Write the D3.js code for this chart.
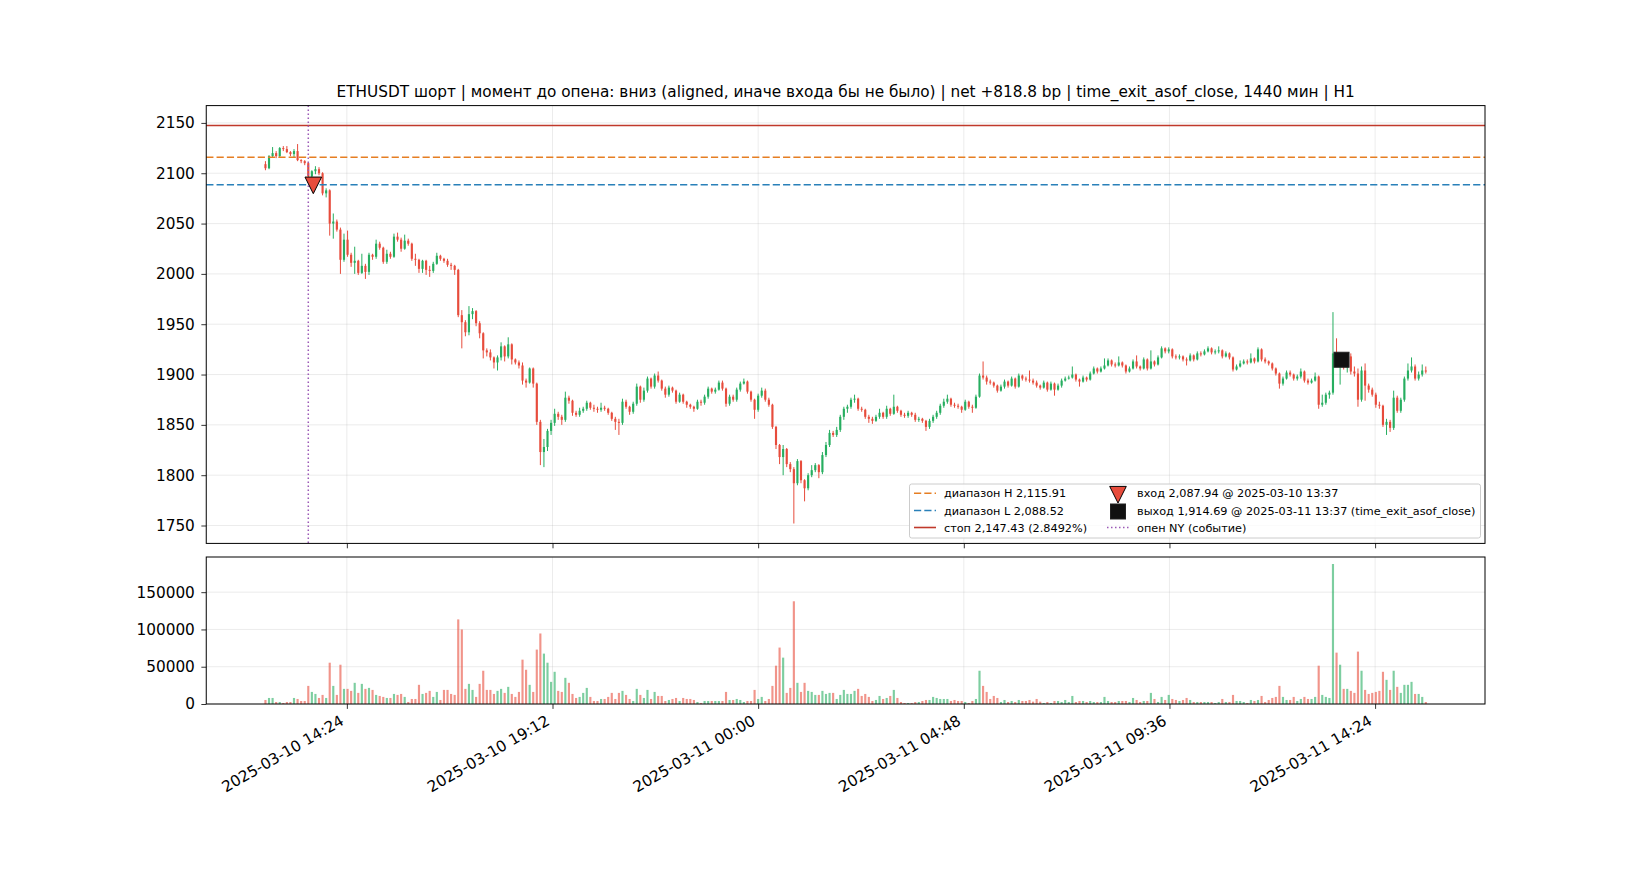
<!DOCTYPE html>
<html>
<head>
<meta charset="utf-8">
<script src="https://cdn.jsdelivr.net/npm/d3@7"></script>
<style>
  body { margin: 0; background: #fff; }
  text { font-family: "DejaVu Sans", sans-serif; fill: #000; }
</style>
</head>
<body>
<div id="chart"></div>
<script>
// 5m candles from 2025-03-10 12:30 UTC, open of each candle = previous close
var startTime = "2025-03-10 12:30";
var stepMinutes = 5;
var firstOpen = 2109;

var closes = [
  2105,2117,2120,2117,2125,2124,2121,2119,2122,2113, 2112,2110,2097,2102,2104,2100,2080,2083,2050,2052,
  2044,2014,2034,2019,2011,2013,2001,2008,2002,2019, 2017,2030,2026,2012,2020,2017,2037,2034,2025,2033,
  2030,2015,2014,2005,2013,2004,2003,2010,2018,2015, 2013,2009,2008,2004,1959,1952,1942,1960,1963,1951,
  1941,1924,1922,1917,1912,1917,1928,1918,1930,1915, 1912,1909,1894,1892,1906,1891,1853,1823,1828,1844,
  1852,1861,1858,1855,1877,1874,1862,1860,1864,1866, 1872,1867,1866,1865,1867,1866,1862,1856,1853,1852,
  1873,1868,1863,1871,1888,1875,1884,1896,1888,1899, 1894,1886,1880,1887,1884,1873,1880,1873,1870,1868,
  1866,1873,1872,1878,1886,1883,1885,1892,1886,1871, 1878,1875,1885,1891,1893,1883,1875,1865,1879,1884,
  1875,1870,1848,1830,1818,1826,1811,1806,1792,1814, 1795,1787,1800,1805,1810,1803,1820,1830,1842,1840,
  1845,1858,1866,1868,1875,1876,1866,1865,1858,1856, 1854,1858,1862,1858,1866,1861,1868,1864,1860,1859,
  1862,1860,1855,1856,1854,1848,1854,1858,1862,1869, 1873,1876,1870,1869,1868,1865,1873,1868,1867,1878,
  1899,1897,1893,1892,1889,1884,1888,1893,1889,1896, 1888,1899,1896,1895,1894,1892,1889,1887,1892,1885,
  1891,1885,1889,1894,1896,1897,1900,1895,1893,1897, 1895,1901,1906,1903,1906,1909,1914,1910,1909,1912,
  1909,1903,1906,1913,1908,1906,1915,1906,1913,1910, 1917,1926,1923,1925,1918,1917,1918,1915,1914,1919,
  1915,1921,1920,1923,1926,1922,1923,1924,1918,1921, 1917,1905,1908,1911,1913,1912,1916,1913,1925,1915,
  1913,1911,1906,1901,1891,1896,1902,1900,1896,1898, 1903,1894,1892,1894,1898,1870,1872,1880,1882,1921,
  1912,1915,1910,1918,1903,1901,1875,1904,1889,1885, 1880,1870,1869,1850,1853,1847,1877,1864,1875,1896,
  1904,1908,1896,1900,1904,1903
];

var highs = [
  2112,2118,2126,2122,2126,2127,2127,2122,2124,2129, 2114,2113,2111,2103,2107,2106,2101,2085,2084,2060,
  2054,2046,2040,2043,2021,2027,2014,2020,2010,2021, 2020,2034,2032,2027,2024,2022,2040,2041,2036,2039,
  2035,2031,2020,2015,2014,2014,2008,2012,2021,2019, 2016,2015,2011,2009,2005,1964,1954,1968,1966,1964,
  1953,1942,1926,1925,1918,1919,1932,1929,1937,1931, 1916,1914,1912,1896,1907,1907,1892,1855,1836,1846,
  1855,1866,1863,1860,1883,1879,1875,1864,1867,1868, 1874,1873,1870,1868,1872,1869,1867,1863,1858,1856,
  1876,1875,1869,1873,1891,1889,1887,1898,1897,1901, 1903,1895,1888,1889,1888,1885,1882,1881,1874,1871,
  1869,1875,1875,1880,1888,1887,1887,1894,1894,1887, 1880,1880,1887,1893,1896,1894,1884,1876,1881,1887,
  1886,1877,1871,1849,1831,1830,1827,1813,1808,1816, 1815,1796,1802,1810,1812,1811,1823,1833,1845,1844,
  1848,1860,1868,1870,1877,1880,1877,1868,1866,1860, 1858,1860,1866,1863,1869,1867,1880,1869,1865,1862,
  1864,1863,1862,1858,1857,1855,1856,1860,1864,1871, 1876,1880,1877,1872,1871,1869,1875,1874,1870,1880,
  1901,1913,1899,1895,1893,1890,1890,1895,1894,1898, 1897,1901,1900,1898,1904,1896,1894,1890,1894,1893,
  1893,1892,1891,1896,1898,1899,1908,1901,1896,1899, 1898,1903,1908,1907,1908,1916,1916,1915,1912,1918,
  1913,1910,1908,1915,1919,1909,1917,1916,1924,1914, 1919,1928,1927,1927,1926,1920,1920,1919,1917,1921,
  1920,1923,1923,1925,1928,1927,1925,1928,1925,1923, 1922,1918,1910,1914,1915,1915,1921,1917,1927,1926,
  1917,1914,1912,1907,1902,1898,1904,1904,1901,1900, 1906,1904,1896,1896,1902,1899,1880,1882,1884,1962,
  1936,1918,1916,1920,1921,1908,1906,1908,1911,1891, 1887,1882,1873,1870,1856,1855,1884,1879,1877,1898,
  1911,1917,1910,1903,1910,1908
];

var lows = [
  2103,2104,2116,2115,2116,2122,2120,2117,2116,2112, 2110,2108,2095,2093,2099,2098,2078,2076,2038,2035,
  2042,2000,2012,2017,2007,2000,1999,2000,1995,1999, 2014,2015,2024,2010,2010,2015,2016,2032,2022,2024,
  2028,2013,2008,2001,2001,1999,1997,2001,2009,2013, 2011,2007,2004,1999,1957,1926,1938,1939,1955,1948,
  1936,1916,1918,1914,1906,1904,1914,1913,1916,1910, 1910,1906,1890,1887,1891,1887,1850,1810,1808,1824,
  1840,1849,1855,1850,1853,1871,1859,1858,1858,1862, 1864,1865,1863,1862,1863,1864,1860,1854,1845,1840,
  1850,1866,1860,1861,1869,1872,1873,1882,1886,1886, 1892,1884,1877,1878,1882,1871,1872,1871,1867,1866,
  1863,1865,1869,1870,1876,1881,1881,1884,1884,1868, 1869,1873,1873,1883,1890,1881,1873,1856,1863,1877,
  1873,1868,1846,1826,1811,1800,1808,1803,1752,1790, 1792,1774,1785,1798,1803,1797,1801,1818,1828,1838,
  1838,1843,1855,1862,1866,1872,1864,1863,1856,1852, 1851,1853,1856,1856,1856,1859,1860,1862,1858,1857,
  1857,1858,1853,1853,1852,1844,1846,1852,1856,1860, 1867,1871,1868,1867,1866,1862,1864,1866,1862,1866,
  1877,1895,1890,1890,1887,1882,1883,1886,1887,1888, 1886,1887,1894,1893,1892,1890,1887,1885,1886,1883,
  1884,1879,1884,1887,1893,1895,1896,1893,1888,1892, 1893,1894,1900,1901,1902,1905,1908,1908,1907,1908,
  1907,1901,1902,1905,1906,1904,1905,1904,1905,1908, 1909,1916,1921,1921,1916,1915,1915,1913,1909,1913,
  1913,1914,1918,1919,1922,1920,1920,1921,1916,1917, 1915,1903,1904,1907,1910,1910,1911,1911,1912,1913,
  1911,1909,1904,1899,1886,1889,1895,1898,1894,1894, 1896,1892,1890,1891,1893,1866,1868,1870,1876,1880,
  1908,1890,1905,1902,1900,1898,1868,1873,1874,1882, 1878,1867,1866,1848,1840,1843,1845,1862,1862,1873,
  1894,1902,1894,1894,1898,1901
];

var volumes = [
  5400,8100,8100,2700,2700,1350,2700,2700,8100,6750, 4050,4050,24300,16200,13500,8100,12200,8100,55400,24300,
  12200,52700,20300,20300,17600,28400,14900,27000,20300,21600, 18900,12200,10800,9500,8100,8100,13500,12200,13500,9500,
  2700,6750,6750,25700,13500,14900,17600,9500,16200,5400, 18900,18900,13500,12200,113500,100000,20300,27000,18900,9500,
  27000,44600,18900,18900,13500,17600,20300,14900,23000,13500, 9500,16200,59500,45900,25700,16200,73000,94600,67600,55400,
  29700,43200,17600,16200,35100,28400,13500,8100,9500,14900, 21600,9500,4050,4050,6750,6750,9500,14900,6750,14900,
  17600,12200,6750,4050,20300,12200,8100,18900,6750,16200, 10800,10800,4050,5400,6750,8100,4050,8100,6750,6750,
  5400,2700,1350,4050,4050,4050,4050,4050,4050,16200, 5400,5400,6750,5400,2700,4050,4050,18900,6750,9500,
  4050,6750,24300,51400,75700,62200,14900,21600,137800,28400, 16200,28400,17600,16200,12200,12200,17600,13500,14900,14900,
  6750,12200,18900,13500,13500,17600,20300,10800,13500,9500, 4050,5400,10800,6750,8100,10800,18900,8100,2700,1350,
  1350,1350,2700,2700,4050,5400,5400,9500,8100,6750, 6750,6750,4050,5400,4050,4050,2700,1350,4050,6750,
  44600,24300,16200,6750,10800,8100,2700,5400,2700,4050, 2700,5400,4050,4050,5400,3150,6750,3150,1350,2700,
  1350,4050,4050,2700,5400,2700,10800,2700,4050,4050, 2700,4050,2700,2700,2700,9500,4050,2700,2700,4050,
  4050,4050,2700,8100,5400,2700,4050,4050,14900,6750, 2700,9500,5400,12200,6750,5400,4050,5400,8100,5400,
  2700,2700,2700,2700,2700,2700,1350,2700,6750,2700, 2700,12200,4050,4050,2700,1350,5400,4050,5400,10800,
  2700,5400,8100,9500,24300,9500,5400,5400,9500,4050, 6750,9500,6750,6750,9500,51400,12200,9500,8100,187800,
  68900,52700,20300,20300,17600,14900,70300,44600,18900,13500, 14900,16200,17600,43200,32400,18900,44600,23000,14900,25700,
  25700,29700,13500,13500,9500,2700
];

var xTickLabels = ["2025-03-10 14:24", "2025-03-10 19:12", "2025-03-11 00:00",
                   "2025-03-11 04:48", "2025-03-11 09:36", "2025-03-11 14:24"];
var priceTicks = [1750, 1800, 1850, 1900, 1950, 2000, 2050, 2100, 2150];
var volumeTicks = [0, 50000, 100000, 150000];

var rangeHigh = 2115.91, rangeLow = 2088.52, stopPrice = 2147.43;
var entryTime = "2025-03-10 13:37", entryPrice = 2087.94;
var exitTime = "2025-03-11 13:37", exitPrice = 1914.69;
var nyOpenTime = "2025-03-10 13:30";

var titleText = "ETHUSDT шорт | момент до опена: вниз (aligned, иначе входа бы не было) | net +818.8 bp | time_exit_asof_close, 1440 мин | H1";
var legendLeft = ["диапазон H 2,115.91", "диапазон L 2,088.52", "стоп 2,147.43 (2.8492%)"];
var legendRight = ["вход 2,087.94 @ 2025-03-10 13:37",
                   "выход 1,914.69 @ 2025-03-11 13:37 (time_exit_asof_close)",
                   "опен NY (событие)"];

var GREEN = "#27ae60", RED = "#e74c3c";
var ORANGE = "#e67e22", BLUE = "#2980b9", STOP = "#c0392b", PURPLE = "#9b59b6";
var DASH = "7.2,3.1", DOT = "1.5,2.5";

var parse = d3.utcParse("%Y-%m-%d %H:%M");
var t0 = parse(startTime);
var candles = closes.map(function(c, i) {
  return {
    t: new Date(t0.getTime() + i * stepMinutes * 60000),
    o: i == 0 ? firstOpen : closes[i - 1],
    h: highs[i], l: lows[i], c: c, v: volumes[i]
  };
});

var W = 1650, H = 880;
var left = 206.25, right = 1485;
var mainTop = 105.6, mainBottom = 543.4;
var volTop = 557.0, volBottom = 704;
var tickFont = "15.3px";

// matplotlib style autoscale: 5% margin around data (bar half width included)
var halfW = 1.5 * 60000;
var tMin = candles[0].t.getTime() - halfW, tMax = candles[candles.length - 1].t.getTime() + halfW;
var tPad = (tMax - tMin) * 0.05;
var x = d3.scaleUtc().domain([new Date(tMin - tPad), new Date(tMax + tPad)]).range([left, right]);

var pLo = d3.min(lows), pHi = Math.max(d3.max(highs), stopPrice);
var pPad = (pHi - pLo) * 0.05;
var y = d3.scaleLinear().domain([pLo - pPad, pHi + pPad]).range([mainBottom, mainTop]);
var yv = d3.scaleLinear().domain([0, d3.max(volumes) * 1.05]).range([volBottom, volTop]);

var bw = x(new Date(t0.getTime() + halfW)) - x(new Date(t0.getTime() - halfW));
var xTicks = xTickLabels.map(parse);

var svg = d3.select("#chart").append("svg")
  .attr("width", W).attr("height", H)
  .style("background", "#fff");

// grids
function grid(g, yScale, vals, top, bottom) {
  g.selectAll(".gy").data(vals).enter().append("line")
    .attr("x1", left).attr("x2", right)
    .attr("y1", function(d) { return yScale(d); }).attr("y2", function(d) { return yScale(d); })
    .attr("stroke", "#b0b0b0").attr("stroke-opacity", 0.3).attr("stroke-width", 0.8);
  g.selectAll(".gx").data(xTicks).enter().append("line")
    .attr("x1", function(d) { return x(d); }).attr("x2", function(d) { return x(d); })
    .attr("y1", top).attr("y2", bottom)
    .attr("stroke", "#b0b0b0").attr("stroke-opacity", 0.3).attr("stroke-width", 0.8);
}
grid(svg.append("g"), y, priceTicks, mainTop, mainBottom);
grid(svg.append("g"), yv, volumeTicks, volTop, volBottom);

// candles
var cg = svg.append("g");
cg.selectAll("line.wick").data(candles).enter().append("line")
  .attr("x1", function(d) { return x(d.t); }).attr("x2", function(d) { return x(d.t); })
  .attr("y1", function(d) { return y(d.h); }).attr("y2", function(d) { return y(d.l); })
  .attr("stroke", function(d) { return d.c >= d.o ? GREEN : RED; })
  .attr("stroke-width", 1);
cg.selectAll("rect.body").data(candles).enter().append("rect")
  .attr("x", function(d) { return x(d.t) - bw / 2; })
  .attr("width", bw)
  .attr("y", function(d) { return y(Math.max(d.o, d.c)); })
  .attr("height", function(d) { return Math.max(0.8, Math.abs(y(d.o) - y(d.c))); })
  .attr("fill", function(d) { return d.c >= d.o ? GREEN : RED; });

// volume
svg.append("g").selectAll("rect").data(candles).enter().append("rect")
  .attr("x", function(d) { return x(d.t) - bw / 2; })
  .attr("width", bw)
  .attr("y", function(d) { return yv(d.v); })
  .attr("height", function(d) { return volBottom - yv(d.v); })
  .attr("fill", function(d) { return d.c >= d.o ? GREEN : RED; })
  .attr("fill-opacity", 0.6);

// levels
function hline(v, color, dash, w) {
  svg.append("line").attr("x1", left).attr("x2", right)
    .attr("y1", y(v)).attr("y2", y(v))
    .attr("stroke", color).attr("stroke-width", w)
    .attr("stroke-dasharray", dash);
}
hline(rangeHigh, ORANGE, DASH, 1.4);
hline(rangeLow, BLUE, DASH, 1.4);
hline(stopPrice, STOP, null, 1.6);

svg.append("line")
  .attr("x1", x(parse(nyOpenTime))).attr("x2", x(parse(nyOpenTime)))
  .attr("y1", mainTop).attr("y2", mainBottom)
  .attr("stroke", PURPLE).attr("stroke-width", 1.5).attr("stroke-dasharray", DOT);

// markers
function triPath(cx, cy, s) {
  return "M" + (cx - s) + "," + (cy - s) + "L" + (cx + s) + "," + (cy - s) + "L" + cx + "," + (cy + s) + "Z";
}
svg.append("path")
  .attr("d", triPath(x(parse(entryTime)), y(entryPrice), 8.3))
  .attr("fill", RED).attr("stroke", "#000").attr("stroke-width", 1);
svg.append("rect")
  .attr("x", x(parse(exitTime)) - 7.5).attr("y", y(exitPrice) - 7.5)
  .attr("width", 15).attr("height", 15)
  .attr("fill", "#111").attr("stroke", "#222").attr("stroke-width", 1);

// axes
function yAxis(scale, vals, fmt) {
  var g = svg.append("g").attr("transform", "translate(" + left + ",0)")
    .call(d3.axisLeft(scale).tickValues(vals).tickSize(4.9).tickPadding(6.5).tickFormat(fmt));
  g.select(".domain").remove();
  g.selectAll("line").attr("stroke", "#000").attr("stroke-width", 0.8);
  g.selectAll("text").attr("font-size", tickFont).attr("font-family", "DejaVu Sans");
}
yAxis(y, priceTicks, d3.format("d"));
yAxis(yv, volumeTicks, d3.format("d"));

[mainBottom, volBottom].forEach(function(b) {
  var g = svg.append("g").attr("transform", "translate(0," + b + ")")
    .call(d3.axisBottom(x).tickValues(xTicks).tickSize(4.9).tickFormat(""));
  g.select(".domain").remove();
  g.selectAll("line").attr("stroke", "#000").attr("stroke-width", 0.8);
});

svg.append("g").selectAll("text").data(xTickLabels).enter().append("text")
  .attr("transform", function(d) {
    return "translate(" + (x(parse(d)) - 1.8) + "," + (volBottom + 19.8) + ") rotate(-30)";
  })
  .attr("text-anchor", "end")
  .attr("font-size", tickFont)
  .text(function(d) { return d; });

// spines
[[mainTop, mainBottom], [volTop, volBottom]].forEach(function(b) {
  svg.append("rect").attr("x", left).attr("y", b[0])
    .attr("width", right - left).attr("height", b[1] - b[0])
    .attr("fill", "none").attr("stroke", "#000").attr("stroke-width", 1);
});

// title
svg.append("text")
  .attr("x", (left + right) / 2).attr("y", mainTop - 8.3)
  .attr("text-anchor", "middle").attr("font-size", "15.3px")
  .text(titleText);

// legend
var lg = svg.append("g");
lg.append("rect").attr("x", 909.5).attr("y", 484).attr("width", 571).attr("height", 54)
  .attr("rx", 2.2).attr("fill", "#fff").attr("fill-opacity", 0.8)
  .attr("stroke", "#cccccc").attr("stroke-width", 1);
var rowY = [493.3, 510.5, 527.5];
var leftStyles = [[ORANGE, DASH, 1.4], [BLUE, DASH, 1.4], [STOP, null, 1.6]];
legendLeft.forEach(function(t, i) {
  lg.append("line").attr("x1", 914).attr("x2", 936).attr("y1", rowY[i]).attr("y2", rowY[i])
    .attr("stroke", leftStyles[i][0]).attr("stroke-dasharray", leftStyles[i][1])
    .attr("stroke-width", leftStyles[i][2]);
  lg.append("text").attr("x", 944).attr("y", rowY[i]).attr("dy", "0.36em")
    .attr("font-size", "11.25px").text(t);
});
lg.append("path").attr("d", triPath(1118, rowY[0] + 1.4, 8.3))
  .attr("fill", RED).attr("stroke", "#000").attr("stroke-width", 1);
lg.append("rect").attr("x", 1118 - 7.5).attr("y", rowY[1] + 1 - 7.5).attr("width", 15).attr("height", 15)
  .attr("fill", "#111").attr("stroke", "#222").attr("stroke-width", 1);
lg.append("line").attr("x1", 1107).attr("x2", 1129).attr("y1", rowY[2]).attr("y2", rowY[2])
  .attr("stroke", PURPLE).attr("stroke-width", 1.5).attr("stroke-dasharray", DOT);
legendRight.forEach(function(t, i) {
  lg.append("text").attr("x", 1137).attr("y", rowY[i]).attr("dy", "0.36em")
    .attr("font-size", "11.25px").text(t);
});
</script>
</body>
</html>
